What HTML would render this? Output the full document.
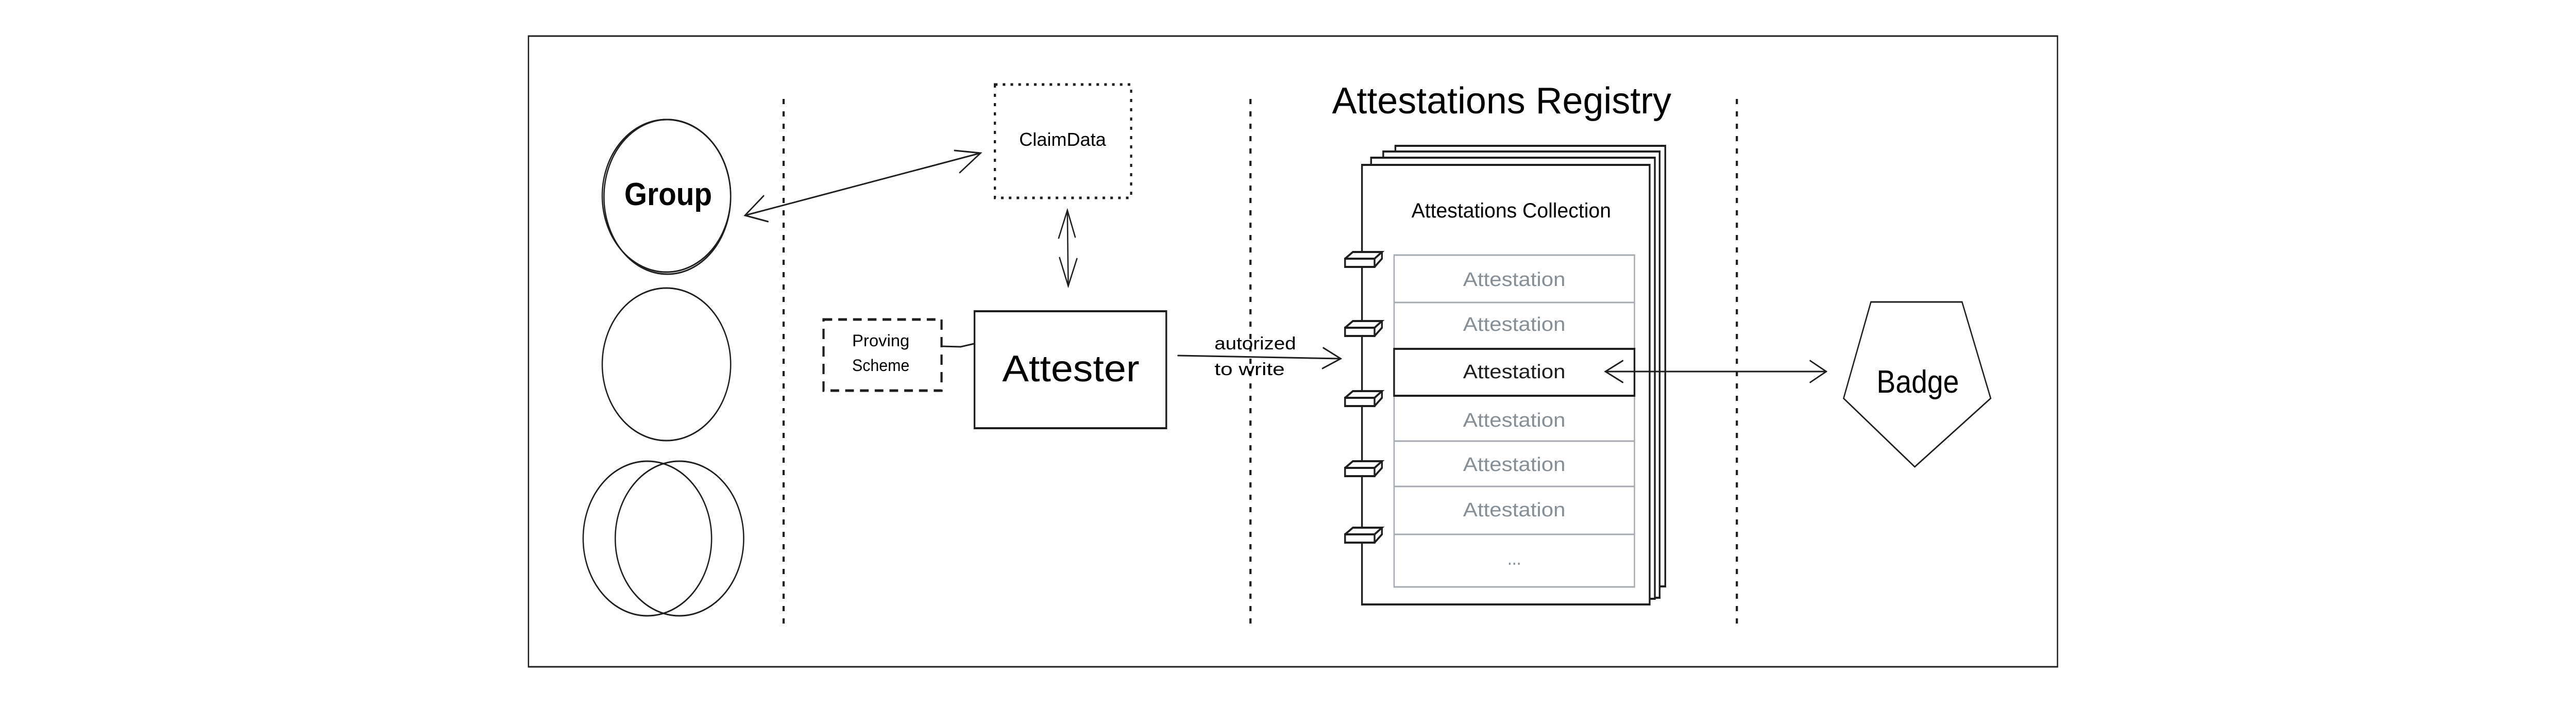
<!DOCTYPE html>
<html><head><meta charset="utf-8"><style>
html,body{margin:0;padding:0;background:#fff;overflow:hidden;width:100%;height:100%;}
svg{display:block;position:fixed;left:0;top:0;width:100vw;height:100vh;}
text{font-family:"Liberation Sans",sans-serif;}
</style></head><body>
<svg viewBox="0 0 5937 1405" preserveAspectRatio="none" xmlns="http://www.w3.org/2000/svg">
<rect x="0" y="0" width="5937" height="1405" fill="#fff"/>
<rect x="1218" y="70" width="3524" height="1224" fill="none" stroke="#1e1e1e" stroke-width="3"/>
<g stroke="#1e1e1e" stroke-width="5" stroke-dasharray="10 14">
<line x1="1806" y1="192" x2="1806" y2="1218"/>
<line x1="2882" y1="192" x2="2882" y2="1218"/>
<line x1="4003" y1="192" x2="4003" y2="1218"/>
</g>
<g fill="none" stroke="#1e1e1e" stroke-width="3">
<ellipse cx="1536" cy="380" rx="148" ry="148"/>
<ellipse cx="1538" cy="382" rx="146" ry="150"/>
<ellipse cx="1536" cy="707" rx="148" ry="148"/>
<ellipse cx="1492" cy="1045" rx="148" ry="150"/>
<ellipse cx="1566" cy="1045" rx="148" ry="150"/>
</g>
<text x="1540" y="398" font-size="62" font-weight="bold" text-anchor="middle" textLength="202" lengthAdjust="spacingAndGlyphs">Group</text>
<rect x="2293" y="164" width="314" height="220" fill="none" stroke="#1e1e1e" stroke-width="5" stroke-dasharray="6 12"/>
<text x="2449" y="283" font-size="36" text-anchor="middle" textLength="200" lengthAdjust="spacingAndGlyphs">ClaimData</text>
<rect x="1898" y="620" width="272" height="138" fill="none" stroke="#1e1e1e" stroke-width="5" stroke-dasharray="20 14"/>
<text x="2030" y="672" font-size="32" text-anchor="middle" textLength="132" lengthAdjust="spacingAndGlyphs">Proving</text>
<text x="2030" y="720" font-size="32" text-anchor="middle" textLength="132" lengthAdjust="spacingAndGlyphs">Scheme</text>
<rect x="2246" y="604" width="442" height="227" fill="none" stroke="#1e1e1e" stroke-width="4"/>
<text x="2468" y="740" font-size="72" text-anchor="middle" textLength="316" lengthAdjust="spacingAndGlyphs">Attester</text>
<text x="2893" y="678" font-size="34" text-anchor="middle" textLength="188" lengthAdjust="spacingAndGlyphs">autorized</text>
<text x="2880" y="728" font-size="34" text-anchor="middle" textLength="162" lengthAdjust="spacingAndGlyphs">to write</text>
<text x="3070" y="220" font-size="72" textLength="782" lengthAdjust="spacingAndGlyphs">Attestations Registry</text>
<g fill="#fff" stroke="#1e1e1e" stroke-width="4">
<rect x="3216" y="283" width="622" height="855"/>
<rect x="3188" y="294" width="637" height="866"/>
<rect x="3160" y="306" width="654" height="856"/>
<rect x="3139" y="320" width="663" height="853"/>
</g>
<text x="3483" y="422" font-size="40" text-anchor="middle" textLength="460" lengthAdjust="spacingAndGlyphs">Attestations Collection</text>
<g fill="none" stroke="#a5abb1" stroke-width="3">
<rect x="3213" y="495" width="554" height="644"/>
<line x1="3213" y1="587" x2="3767" y2="587"/>
<line x1="3213" y1="856" x2="3767" y2="856"/>
<line x1="3213" y1="944" x2="3767" y2="944"/>
<line x1="3213" y1="1037" x2="3767" y2="1037"/>
</g>
<rect x="3213" y="677" width="554" height="91" fill="none" stroke="#1e1e1e" stroke-width="4"/>
<g font-size="38" text-anchor="middle" fill="#868e96">
<text x="3490" y="555" textLength="236" lengthAdjust="spacingAndGlyphs">Attestation</text>
<text x="3490" y="642" textLength="236" lengthAdjust="spacingAndGlyphs">Attestation</text>
<text x="3490" y="734" fill="#1e1e1e" textLength="236" lengthAdjust="spacingAndGlyphs">Attestation</text>
<text x="3490" y="828" textLength="236" lengthAdjust="spacingAndGlyphs">Attestation</text>
<text x="3490" y="914" textLength="236" lengthAdjust="spacingAndGlyphs">Attestation</text>
<text x="3490" y="1002" textLength="236" lengthAdjust="spacingAndGlyphs">Attestation</text>
<text x="3490" y="1096">...</text>
</g>
<g fill="#fff" stroke="#1e1e1e" stroke-width="4">
<path d="M3100,502 h68 v16 h-68 z M3100,502 l18,-13 h67 l-17,13 M3168,518 l17,-16 v-13"/>
<path d="M3100,636 h68 v16 h-68 z M3100,636 l18,-13 h67 l-17,13 M3168,652 l17,-16 v-13"/>
<path d="M3100,772 h68 v16 h-68 z M3100,772 l18,-13 h67 l-17,13 M3168,788 l17,-16 v-13"/>
<path d="M3100,908 h68 v16 h-68 z M3100,908 l18,-13 h67 l-17,13 M3168,924 l17,-16 v-13"/>
<path d="M3100,1037 h68 v16 h-68 z M3100,1037 l18,-13 h67 l-17,13 M3168,1053 l17,-16 v-13"/>
</g>
<polygon points="4312,586 4522,586 4588,773 4413,906 4249,773" fill="none" stroke="#1e1e1e" stroke-width="3"/>
<text x="4420" y="762" font-size="62" text-anchor="middle" textLength="190" lengthAdjust="spacingAndGlyphs">Badge</text>
<g fill="none" stroke="#1e1e1e" stroke-width="3" stroke-linecap="round">
<line x1="1717" y1="418" x2="2260" y2="297"/>
<polyline points="1760,380 1717,418 1770,430"/>
<polyline points="2200,292 2260,297 2212,335"/>
<line x1="2460" y1="408" x2="2462" y2="555"/>
<polyline points="2440,462 2460,408 2478,460"/>
<polyline points="2442,500 2462,555 2482,502"/>
<polyline points="2170,672 2214,673 2245,667"/>
<line x1="2715" y1="690" x2="3090" y2="696"/>
<polyline points="3050,675 3090,696 3048,715"/>
<line x1="3700" y1="721" x2="4209" y2="721"/>
<polyline points="3740,700 3700,721 3740,742"/>
<polyline points="4172,700 4209,721 4172,742"/>
</g>
</svg>
</body></html>
